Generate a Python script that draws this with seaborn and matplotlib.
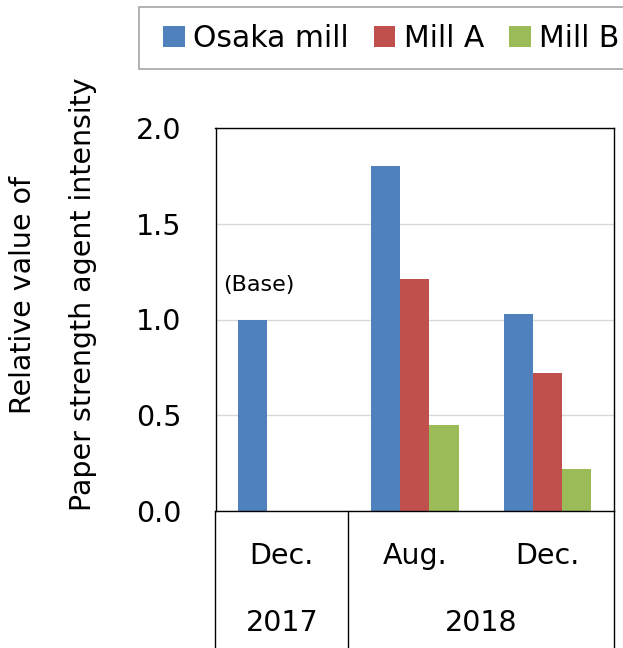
import numpy as np
import pandas as pd
import seaborn as sns
import matplotlib.pyplot as plt
from matplotlib.patches import Rectangle
from matplotlib.transforms import blended_transform_factory

# chart values
periods = ['Dec. 2017', 'Aug. 2018', 'Dec. 2018']
month_labels = ['Dec.', 'Aug.', 'Dec.']
year_labels = ['2017', '2018']
mills = ['Osaka mill', 'Mill A', 'Mill B']
osaka = [1.00, 1.80, 1.03]
mill_a = [np.nan, 1.21, 0.72]
mill_b = [np.nan, 0.45, 0.22]
colors = ['#4F81BD', '#C0504D', '#9BBB59']

rows = []
for name, vals in zip(mills, [osaka, mill_a, mill_b]):
    for p, v in zip(periods, vals):
        rows.append({'period': p, 'mill': name, 'value': v})
df = pd.DataFrame(rows)

sns.set_style('white')
plt.rcParams['font.family'] = ['DejaVu Sans']
plt.rcParams['text.color'] = 'black'
plt.rcParams['xtick.color'] = 'black'
plt.rcParams['ytick.color'] = 'black'
fs = 20.5

fig = plt.figure(figsize=(6.23, 6.48), dpi=100)
W, H = 623, 648
ax = fig.add_axes([215.5 / W, 1 - 511 / H, (614 - 215.5) / W, (511 - 128) / H])

sns.barplot(data=df, x='period', y='value', hue='mill', order=periods, hue_order=mills,
            palette=colors, width=0.66, errorbar=None, ax=ax, linewidth=0, saturation=1)

ax.set_ylim(0, 2.0)
ax.set_xlim(-0.5, 2.5)
ax.set_yticks([0, 0.5, 1.0, 1.5, 2.0])
ax.set_yticklabels(['0.0', '0.5', '1.0', '1.5', '2.0'])
ax.yaxis.grid(True, color='#D9D9D9', lw=1)
ax.set_axisbelow(True)
ax.set_xticks(range(len(periods)))
ax.set_xticklabels(month_labels)
ax.tick_params(axis='y', length=0, pad=24.5, labelsize=fs, labelcolor='black')
ax.tick_params(axis='x', length=0, pad=22, labelsize=fs, labelcolor='black')
ax.set_xlabel('')
ax.set_ylabel('')
for s in ax.spines.values():
    s.set_visible(True)
    s.set_color('black')
    s.set_linewidth(1)

# year row and separators below the axis
tr = blended_transform_factory(ax.transData, ax.transAxes)
ax.text(0, (511 - 623) / 383, year_labels[0], transform=tr, ha='center', va='center',
        fontsize=fs, color='black')
ax.text(1.5, (511 - 623) / 383, year_labels[1], transform=tr, ha='center', va='center',
        fontsize=fs, color='black')
for xv in [-0.5, 0.5, 2.5]:
    ax.plot([xv, xv], [0, -0.4], transform=tr, color='black', lw=1, clip_on=False)

ax.text(-0.44, 1.18, '(Base)', ha='left', va='center', fontsize=16, color='black')

# y label, two lines
fig.text(23 / W, 1 - 295 / H, 'Relative value of', rotation=90, ha='center', va='center',
         fontsize=fs, color='black')
fig.text(83 / W, 1 - 294 / H, 'Paper strength agent intensity', rotation=90, ha='center',
         va='center', fontsize=fs, color='black')

# legend
handles, labels = ax.get_legend_handles_labels()
ax.get_legend().remove()
fig.patches.append(Rectangle((139 / W, 1 - 69 / H), 500 / W, 62 / H, transform=fig.transFigure,
                             facecolor='white', edgecolor='#A6A6A6', lw=1.2))
leg = fig.legend(handles, labels, loc='center left', bbox_to_anchor=(163 / W, 1 - 38.5 / H), ncol=3,
                 frameon=False, borderpad=0, borderaxespad=0, handlelength=0.72, handleheight=0.72,
                 handletextpad=0.28, columnspacing=0.85, fontsize=21.5)
for t in leg.get_texts():
    t.set_color('black')

fig.savefig('out.png', dpi=100)
